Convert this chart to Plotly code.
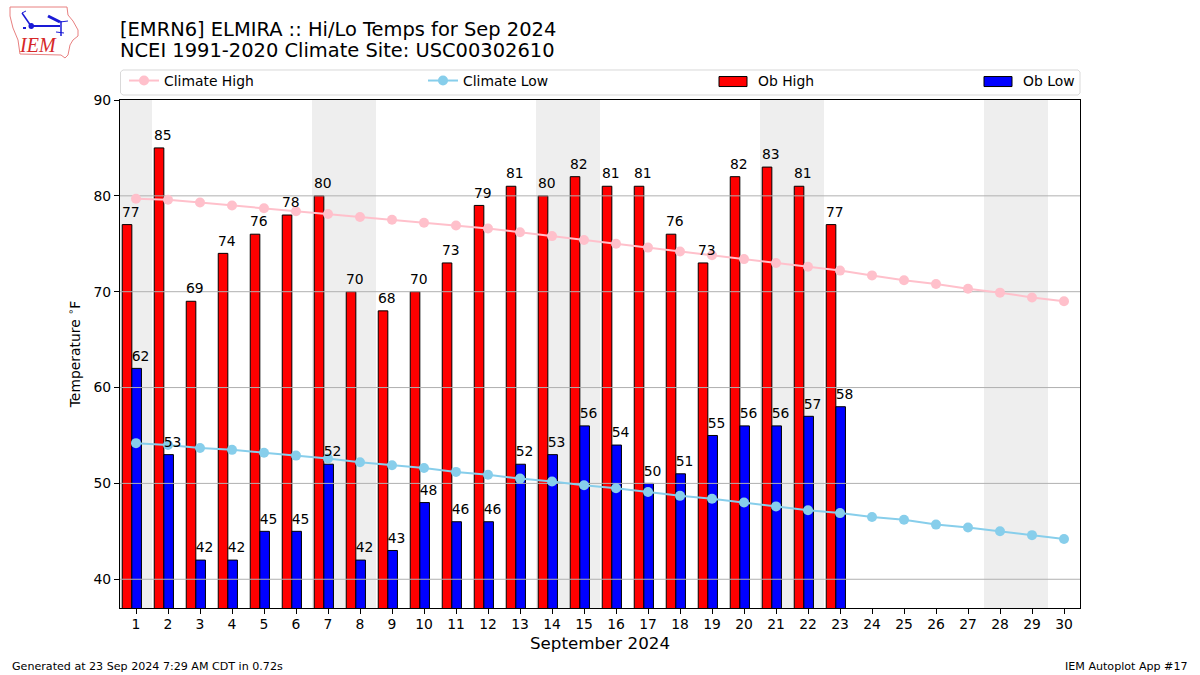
import plotly.graph_objects as go

days = list(range(1, 31))
obs_days = list(range(1, 24))
ob_high = [77, 85, 69, 74, 76, 78, 80, 70, 68, 70, 73, 79, 81, 80, 82, 81, 81, 76, 73, 82, 83, 81, 77]
ob_low = [62, 53, 42, 42, 45, 45, 52, 42, 43, 48, 46, 46, 52, 53, 56, 54, 50, 51, 55, 56, 56, 57, 58]
climate_high = [79.7, 79.6, 79.3, 79.0, 78.7, 78.4, 78.1, 77.8, 77.5, 77.2, 76.9, 76.6, 76.2, 75.8, 75.4,
                75.0, 74.6, 74.2, 73.8, 73.4, 73.0, 72.6, 72.2, 71.7, 71.2, 70.8, 70.3, 69.9, 69.4, 69.0]
climate_low = [54.2, 54.0, 53.7, 53.5, 53.2, 52.9, 52.6, 52.2, 51.9, 51.6, 51.2, 50.9, 50.5, 50.2, 49.8,
               49.5, 49.1, 48.7, 48.4, 48.0, 47.6, 47.2, 46.9, 46.5, 46.2, 45.7, 45.4, 45.0, 44.6, 44.2]
weekend_spans = [(0.5, 1.5), (6.5, 8.5), (13.5, 15.5), (20.5, 22.5), (27.5, 29.5)]
y_ticks = [40, 50, 60, 70, 80, 90]

W, H = 1200, 675
L, R, T, B = 120, 1080, 100, 608
FONT = "DejaVu Sans"


def px(x):
    return (x - L) / (R - L)


def py(y):
    return (B - y) / (B - T)


def ppath(points, close=False):
    s = "M " + " L ".join(f"{px(x):.5f},{py(y):.5f}" for x, y in points)
    return s + (" Z" if close else "")


fig = go.Figure()

bar_line = dict(color="black", width=1)
fig.add_trace(go.Bar(x=obs_days, y=ob_high, name="Ob High", offset=-0.43, width=0.3,
                     marker=dict(color="#ff0000", line=bar_line), legend="legend3"))
fig.add_trace(go.Bar(x=obs_days, y=ob_low, name="Ob Low", offset=-0.13, width=0.3,
                     marker=dict(color="#0000ff", line=bar_line), legend="legend4"))

# Grid lines sit above the bars but below the climate lines
grid_x, grid_y = [], []
for t in y_ticks[:-1]:
    grid_x += [0.5, 30.5, None]
    grid_y += [t, t, None]
fig.add_trace(go.Scatter(x=grid_x, y=grid_y, mode="lines", showlegend=False, hoverinfo="skip",
                         line=dict(color="#b0b0b0", width=1)))

fig.add_trace(go.Scatter(x=days, y=climate_high, name="Climate High", mode="lines+markers",
                         line=dict(color="#ffc0cb", width=2), marker=dict(color="#ffc0cb", size=10),
                         legend="legend"))
fig.add_trace(go.Scatter(x=days, y=climate_low, name="Climate Low", mode="lines+markers",
                         line=dict(color="#87ceeb", width=2), marker=dict(color="#87ceeb", size=10),
                         legend="legend2"))

label_font = dict(family=FONT, size=13.9, color="black")
fig.add_trace(go.Scatter(x=[d - 0.16 for d in obs_days], y=[v + 0.45 for v in ob_high], text=[str(v) for v in ob_high],
                         mode="text", textposition="top center", textfont=label_font, showlegend=False,
                         hoverinfo="skip"))
fig.add_trace(go.Scatter(x=[d + 0.14 for d in obs_days], y=[v + 0.45 for v in ob_low], text=[str(v) for v in ob_low],
                         mode="text", textposition="top center", textfont=label_font, showlegend=False,
                         hoverinfo="skip"))

shapes = [dict(type="rect", xref="x", yref="paper", x0=a, x1=b, y0=0, y1=1, layer="below",
               fillcolor="#eeeeee", line=dict(width=0)) for a, b in weekend_spans]

# Legend frame
shapes.append(dict(type="path", xref="paper", yref="paper",
                   path=ppath([(123, 70), (1078, 70), (1080, 72), (1080, 93), (1078, 95), (123, 95), (120.5, 93),
                               (120.5, 72)], True),
                   line=dict(color="#d9d9d9", width=1), fillcolor="white", layer="below"))

# Logo: Iowa outline and station-plot glyph
iowa = [(10, 7), (67, 7), (68, 15), (73, 21), (78, 30), (78, 36), (73, 40), (70, 45), (68, 55), (65, 58),
        (61, 55), (20, 54), (18, 40), (13, 28), (10, 16)]
shapes.append(dict(type="path", xref="paper", yref="paper", path=ppath(iowa, True),
                   line=dict(color="#e88080", width=1), layer="above"))
for seg, w in (([(31, 26), (60, 26)], 2), ([(22, 13), (31, 26)], 1.5), ([(22, 13), (26, 11)], 1),
               ([(48, 16), (60, 22)], 3), ([(60, 22), (68, 21)], 1), ([(61, 21), (61, 36)], 1.5),
               ([(56, 32), (64, 33)], 1), ([(23, 28), (26, 28)], 2)):
    shapes.append(dict(type="path", xref="paper", yref="paper", path=ppath(seg),
                       line=dict(color="#1a1ad6", width=w), layer="above"))
shapes.append(dict(type="circle", xref="paper", yref="paper", x0=px(28.5), x1=px(34), y0=py(29), y1=py(23),
                   fillcolor="#1a1ad6", line=dict(width=0), layer="above"))

annotations = [
    dict(text="NCEI 1991-2020 Climate Site: USC00302610", xref="paper", yref="paper", x=px(120), y=py(50.5),
         xanchor="left", yanchor="middle", showarrow=False, xshift=-2,
         font=dict(family=FONT, size=19.45, color="black")),
    dict(text="Generated at 23 Sep 2024 7:29 AM CDT in 0.72s", xref="paper", yref="paper", x=px(12), y=py(666),
         xanchor="left", yanchor="middle", showarrow=False, xshift=-2,
         font=dict(family=FONT, size=11.1, color="black")),
    dict(text="IEM Autoplot App #17", xref="paper", yref="paper", x=px(1188), y=py(666),
         xanchor="right", yanchor="middle", showarrow=False, xshift=2,
         font=dict(family=FONT, size=11.1, color="black")),
    dict(text="<i>IEM</i>", xref="paper", yref="paper", x=px(38), y=py(45), xanchor="center", yanchor="middle",
         showarrow=False, font=dict(family="Liberation Serif", size=20, color="#d62728")),
]

legend_common = dict(orientation="h", bgcolor="rgba(0,0,0,0)", borderwidth=0, xref="paper", yref="paper",
                     yanchor="middle", itemwidth=30, font=dict(family=FONT, size=13.9, color="black"),
                     itemclick=False, itemdoubleclick=False)

fig.update_layout(
    width=W, height=H, autosize=False,
    margin=dict(l=L, r=W - R, t=T, b=H - B, pad=0),
    paper_bgcolor="white", plot_bgcolor="white",
    barmode="overlay", showlegend=True,
    title=dict(text="[EMRN6] ELMIRA :: Hi/Lo Temps for Sep 2024", x=120 / W, xanchor="left", xref="container",
               y=1 - 29 / H, yanchor="middle", yref="container", font=dict(family=FONT, size=19.45, color="black")),
    legend=dict(x=px(124), y=py(81), xanchor="left", **legend_common),
    legend2=dict(x=px(423), y=py(81), xanchor="left", **legend_common),
    legend3=dict(x=px(718), y=py(81), xanchor="left", **legend_common),
    legend4=dict(x=px(983), y=py(81), xanchor="left", **legend_common),
    xaxis=dict(range=[0.5, 30.5], tickmode="array", tickvals=days, ticktext=[str(d) for d in days],
               ticks="outside", ticklen=5, tickwidth=1, tickcolor="black", showgrid=False, zeroline=False,
               showline=True, linecolor="black", linewidth=1, mirror=True, layer="above traces",
               ticklabelstandoff=-2,
               tickfont=dict(family=FONT, size=13.9, color="black"),
               title=dict(text="September 2024", font=dict(family=FONT, size=16.7, color="black"), standoff=6)),
    yaxis=dict(range=[37, 90], tickmode="array", tickvals=y_ticks, ticktext=[str(t) for t in y_ticks],
               ticks="outside", ticklen=5, tickwidth=1, tickcolor="black", showgrid=False, zeroline=False,
               showline=True, linecolor="black", linewidth=1, mirror=True, layer="above traces",
               tickfont=dict(family=FONT, size=13.9, color="black"),
               title=dict(text="Temperature <sup>∘</sup>F", font=dict(family=FONT, size=13.9, color="black"), standoff=9)),
    shapes=shapes, annotations=annotations,
)

# Reshape the legend's bar swatches to the reference's wide rectangle
post = """
document.body.style.margin = '0';
function wideSwatches() {
  document.querySelectorAll('g.legendpoints path').forEach(function (p) {
    var d = (p.getAttribute('d') || '').replace(/\\s/g, '');
    if (d.indexOf('M6,6') === 0) {
      p.setAttribute('d', 'M9,6H-19V-4H9Z');
    }
  });
}
var gd = document.querySelector('.plotly-graph-div');
if (gd && gd.on) { gd.on('plotly_afterplot', wideSwatches); }
wideSwatches();
[50, 200, 500, 1000].forEach(function (t) { setTimeout(wideSwatches, t); });
"""
fig.write_html("out.html", config={"displayModeBar": False}, post_script=post)
